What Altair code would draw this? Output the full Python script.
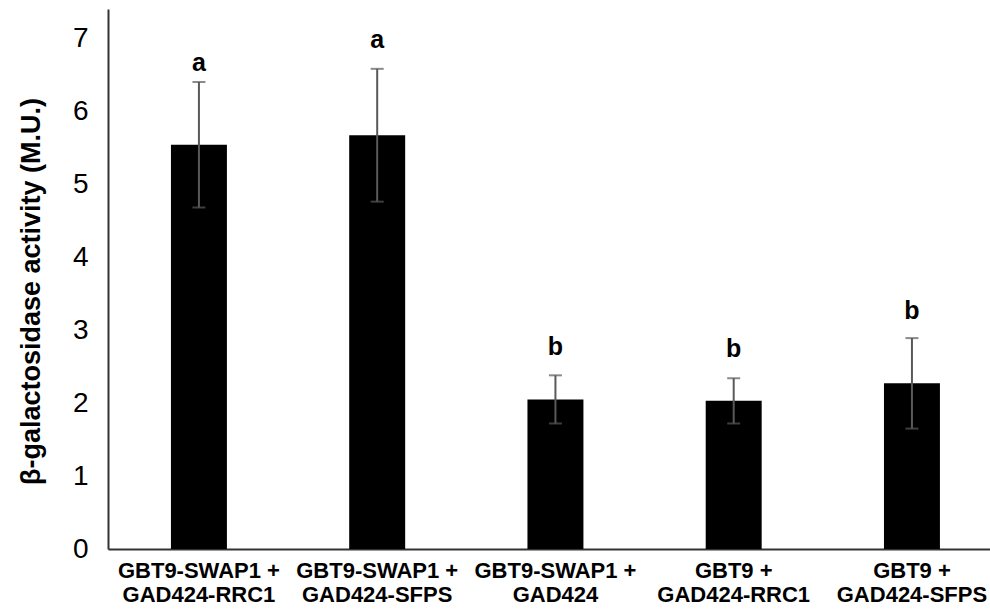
import altair as alt
import pandas as pd

categories = [
    "GBT9-SWAP1 + GAD424-RRC1",
    "GBT9-SWAP1 + GAD424-SFPS",
    "GBT9-SWAP1 + GAD424",
    "GBT9 + GAD424-RRC1",
    "GBT9 + GAD424-SFPS",
]
means = [5.54, 5.67, 2.05, 2.03, 2.27]
sds = [0.86, 0.91, 0.33, 0.31, 0.62]
letters = ["a", "a", "b", "b", "b"]
letter_y = [6.66, 6.98, 2.77, 2.74, 3.26]
y_ticks = [0, 1, 2, 3, 4, 5, 6, 7]

df = pd.DataFrame({
    "cat": categories,
    "mean": means,
    "sd": sds,
    "letter": letters,
    "ly": letter_y,
})

FONT = "Liberation Sans"

xscale = alt.Scale(domain=categories, paddingInner=0.686, paddingOuter=0.317, align=0.557)
yscale = alt.Scale(domain=[0, 7.4], nice=False)

x_enc = alt.X(
    "cat:N",
    scale=xscale,
    sort=categories,
    axis=alt.Axis(
        title=None,
        labelAngle=0,
        ticks=False,
        labelFont=FONT,
        labelFontSize=22,
        labelFontWeight="bold",
        labelColor="black",
        labelLineHeight=24,
        labelPadding=11,
        labelBaseline="top",
        labelExpr="[split(datum.label, ' + ')[0] + ' +', split(datum.label, ' + ')[1]]",
        domainColor="#333333",
        domainWidth=2,
        labelLimit=300,
    ),
)

base = alt.Chart(df).transform_calculate(
    lo="datum.mean - datum.sd", hi="datum.mean + datum.sd"
)

bars = base.mark_bar(color="black").encode(
    x=x_enc,
    y=alt.Y(
        "mean:Q",
        scale=yscale,
        axis=alt.Axis(
            values=y_ticks,
            format="d",
            title="β-galactosidase activity (M.U.)",
            grid=False,
            ticks=False,
            labelFont=FONT,
            labelFontSize=28,
            labelColor="black",
            labelPadding=20,
            domainColor="#333333",
            domainWidth=2,
            titleFont=FONT,
            titleFontSize=27,
            titleFontWeight="bold",
            titleColor="black",
            titleAngle=270,
            titleAlign="center",
            titleBaseline="middle",
            titleX=-77,
            titleY=282,
        ),
    ),
)

rules = base.mark_rule(color="#595959", strokeWidth=2).encode(
    x=alt.X("cat:N", scale=xscale, sort=categories),
    y=alt.Y("lo:Q", scale=yscale),
    y2="hi:Q",
)

caps_hi = base.mark_tick(color="#595959", thickness=2, size=13, orient="horizontal").encode(
    x=alt.X("cat:N", scale=xscale, sort=categories),
    y=alt.Y("hi:Q", scale=yscale),
)
caps_lo = base.mark_tick(color="#595959", thickness=2, size=13, orient="horizontal").encode(
    x=alt.X("cat:N", scale=xscale, sort=categories),
    y=alt.Y("lo:Q", scale=yscale),
)

text = base.mark_text(font=FONT, fontSize=25, fontWeight="bold", color="black", baseline="middle").encode(
    x=alt.X("cat:N", scale=xscale, sort=categories),
    y=alt.Y("ly:Q", scale=yscale),
    text="letter:N",
)

chart = alt.layer(bars, rules, caps_hi, caps_lo, text).properties(
    width=882,
    height=540,
    autosize=alt.AutoSizeParams(type="none"),
    padding={"left": 108, "top": 9, "right": 0, "bottom": 62},
    background="white",
).configure_view(stroke=None)

chart.save("out.html", embed_options={"renderer": "svg", "actions": False})
